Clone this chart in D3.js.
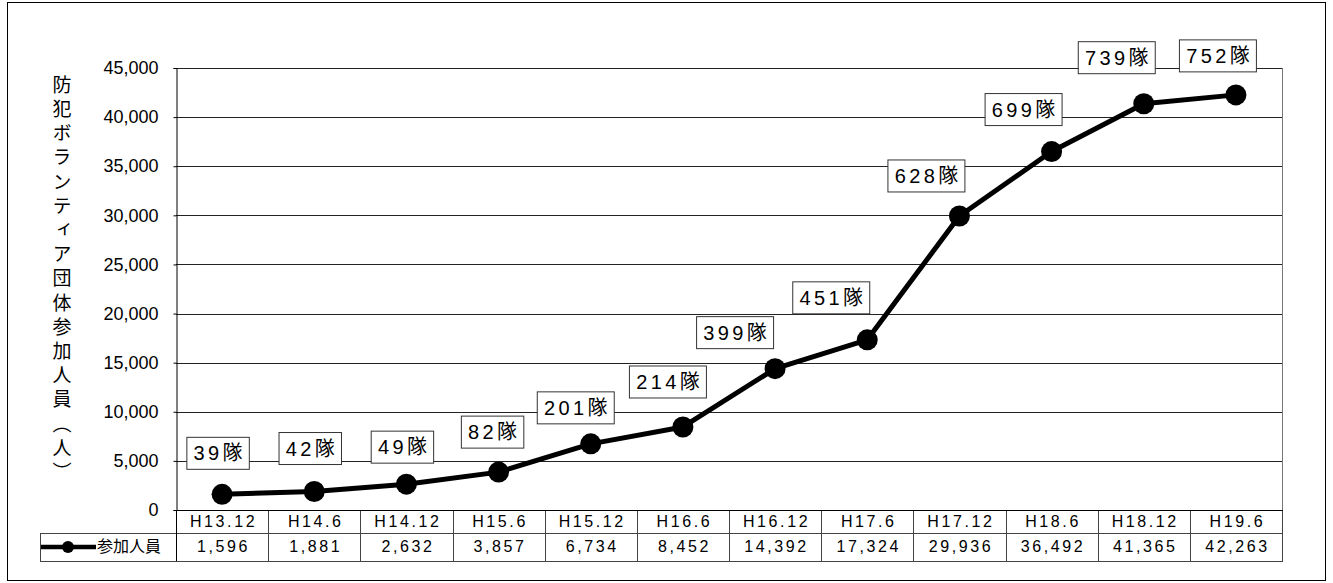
<!DOCTYPE html>
<html>
<head>
<meta charset="utf-8">
<script src="https://cdn.jsdelivr.net/npm/d3@7"></script>
<style>
  body { margin: 0; background: #fff; }
  text { font-family: "Liberation Sans", Arial, "Noto Sans CJK JP", sans-serif; fill: #000; }
</style>
</head>
<body>
<div id="chart"></div>
<script>
// DATA
const categories = ["H13.12", "H14.6", "H14.12", "H15.6", "H15.12", "H16.6", "H16.12", "H17.6", "H17.12", "H18.6", "H18.12", "H19.6"];
const members = [1596, 1881, 2632, 3857, 6734, 8452, 14392, 17324, 29936, 36492, 41365, 42263];
const teams = [39, 42, 49, 82, 201, 214, 399, 451, 628, 699, 739, 752];
const yTicks = [0, 5000, 10000, 15000, 20000, 25000, 30000, 35000, 40000, 45000];
const seriesName = "参加人員";
const yTitle = "防犯ボランティア団体参加人員（人）";

// label nudges (box centre relative to the point), hand placed like the original
const labelNudge = [[-4,-41],[-4,-43],[-4,-37],[-6,-40],[-15,-36],[-15,-45],[-40,-36],[-36,-42],[-33,-40],[-28,-42],[-27,-46],[-18,-39]];

const width = 1333, height = 583;
const plot = {left: 176, right: 1282, top: 68, bottom: 510};
const rowH1 = 23, rowH2 = 28;

const svg = d3.select("#chart").append("svg")
    .attr("width", width)
    .attr("height", height);

// outer border
svg.append("rect")
    .attr("x", 7.5).attr("y", 2.5)
    .attr("width", 1318).attr("height", 578)
    .attr("fill", "none").attr("stroke", "#000").attr("stroke-width", 1);

// SCALES
const x = d3.scaleBand().domain(categories).range([plot.left, plot.right]);
const y = d3.scaleLinear().domain([0, 45000]).range([plot.bottom, plot.top]);

// GRID
svg.append("g")
    .selectAll("line")
    .data(yTicks.filter(d => d > 0))
    .join("line")
    .attr("x1", plot.left).attr("x2", plot.right)
    .attr("y1", d => Math.round(y(d)) + 0.5).attr("y2", d => Math.round(y(d)) + 0.5)
    .attr("stroke", "#222").attr("stroke-width", 1);

// plot frame right side
svg.append("line")
    .attr("x1", plot.right + 0.5).attr("x2", plot.right + 0.5)
    .attr("y1", plot.top).attr("y2", plot.bottom)
    .attr("stroke", "#777");

// Y AXIS
const yAxis = d3.axisLeft(y).tickValues(yTicks).tickFormat(d3.format(",")).tickSize(3).tickPadding(15);
const gy = svg.append("g")
    .attr("transform", `translate(${plot.left + 0.5},0)`)
    .call(yAxis);
gy.select(".domain").attr("stroke", "#000");
gy.selectAll(".tick line").attr("stroke", "#000");
gy.selectAll(".tick text")
    .attr("font-size", 18)
    .attr("font-family", "'Liberation Sans', Arial, sans-serif");

// y title, vertical
svg.append("text")
    .attr("x", 62).attr("y", 75)
    .style("writing-mode", "vertical-rl")
    .style("font-family", "'Noto Sans CJK JP', sans-serif")
    .style("font-size", "19px")
    .style("letter-spacing", "5.2px")
    .text(yTitle);

// TABLE
const table = svg.append("g");
const tTop = plot.bottom, tMid = plot.bottom + rowH1, tBot = plot.bottom + rowH1 + rowH2;

table.selectAll(".vline")
    .data(categories)
    .join("line")
    .attr("class", "vline")
    .attr("x1", d => Math.round(x(d) + x.bandwidth()) + 0.5)
    .attr("x2", d => Math.round(x(d) + x.bandwidth()) + 0.5)
    .attr("y1", tTop).attr("y2", tBot)
    .attr("stroke", "#444");

table.append("line")
    .attr("x1", 40).attr("x2", plot.right + 1)
    .attr("y1", tMid + 0.5).attr("y2", tMid + 0.5).attr("stroke", "#444");
table.append("line")
    .attr("x1", 40).attr("x2", plot.right + 1)
    .attr("y1", tBot + 0.5).attr("y2", tBot + 0.5).attr("stroke", "#444");
table.append("line")
    .attr("x1", 40.5).attr("x2", 40.5)
    .attr("y1", tMid).attr("y2", tBot).attr("stroke", "#444");
table.append("line")
    .attr("x1", plot.left + 0.5).attr("x2", plot.left + 0.5)
    .attr("y1", tTop).attr("y2", tBot).attr("stroke", "#000");

table.selectAll(".cat")
    .data(categories)
    .join("text")
    .attr("class", "cat")
    .attr("x", d => x(d) + x.bandwidth() / 2 + 1.5)
    .attr("y", tTop + rowH1 / 2 + 1)
    .attr("text-anchor", "middle")
    .attr("dominant-baseline", "middle")
    .attr("font-size", 16)
    .style("letter-spacing", "2.6px")
    .text(d => d);

table.selectAll(".val")
    .data(members)
    .join("text")
    .attr("class", "val")
    .attr("x", (d, i) => x(categories[i]) + x.bandwidth() / 2 + 1.5)
    .attr("y", tMid + rowH2 / 2 + 1)
    .attr("text-anchor", "middle")
    .attr("dominant-baseline", "middle")
    .attr("font-size", 16)
    .style("letter-spacing", "2.6px")
    .text(d => d3.format(",")(d));

// legend key
const ly = tMid + rowH2 / 2;
table.append("line")
    .attr("x1", 41).attr("x2", 96).attr("y1", ly).attr("y2", ly)
    .attr("stroke", "#000").attr("stroke-width", 4.5);
table.append("circle")
    .attr("cx", 68).attr("cy", ly).attr("r", 6).attr("fill", "#000");
table.append("text")
    .attr("x", 97).attr("y", ly + 1)
    .attr("dominant-baseline", "middle")
    .style("font-family", "'Noto Sans CJK JP', sans-serif")
    .attr("font-size", 16)
    .text(seriesName);

// x axis line
svg.append("line")
    .attr("x1", plot.left).attr("x2", plot.right + 1)
    .attr("y1", plot.bottom + 0.5).attr("y2", plot.bottom + 0.5)
    .attr("stroke", "#000");

// LINE
const cx = (d, i) => x(categories[i]) + x.bandwidth() / 2;
const line = d3.line().x(cx).y(d => y(d));
svg.append("path")
    .datum(members)
    .attr("d", line)
    .attr("fill", "none")
    .attr("stroke", "#000")
    .attr("stroke-width", 5)
    .attr("stroke-linejoin", "round");

svg.append("g")
    .selectAll("circle")
    .data(members)
    .join("circle")
    .attr("cx", cx)
    .attr("cy", d => y(d))
    .attr("r", 10.5)
    .attr("fill", "#000");

// TEAM LABELS
const labels = svg.append("g")
    .selectAll("g")
    .data(teams)
    .join("g")
    .attr("transform", (d, i) => `translate(${cx(members[i], i) + labelNudge[i][0]}, ${y(members[i]) + labelNudge[i][1]})`);

labels.append("rect").attr("class", "box");
labels.append("text")
    .attr("text-anchor", "middle")
    .attr("dominant-baseline", "central")
    .attr("font-size", 20)
    .style("letter-spacing", "3.4px")
    .attr("dx", 1.7)
    .text(d => d + "隊");

labels.each(function() {
    const g = d3.select(this);
    const w = g.select("text").node().getComputedTextLength() + 10;
    g.select("rect")
        .attr("x", -w / 2).attr("y", -16)
        .attr("width", w).attr("height", 32)
        .attr("fill", "#fff").attr("stroke", "#333").attr("stroke-width", 1);
});
</script>
</body>
</html>
